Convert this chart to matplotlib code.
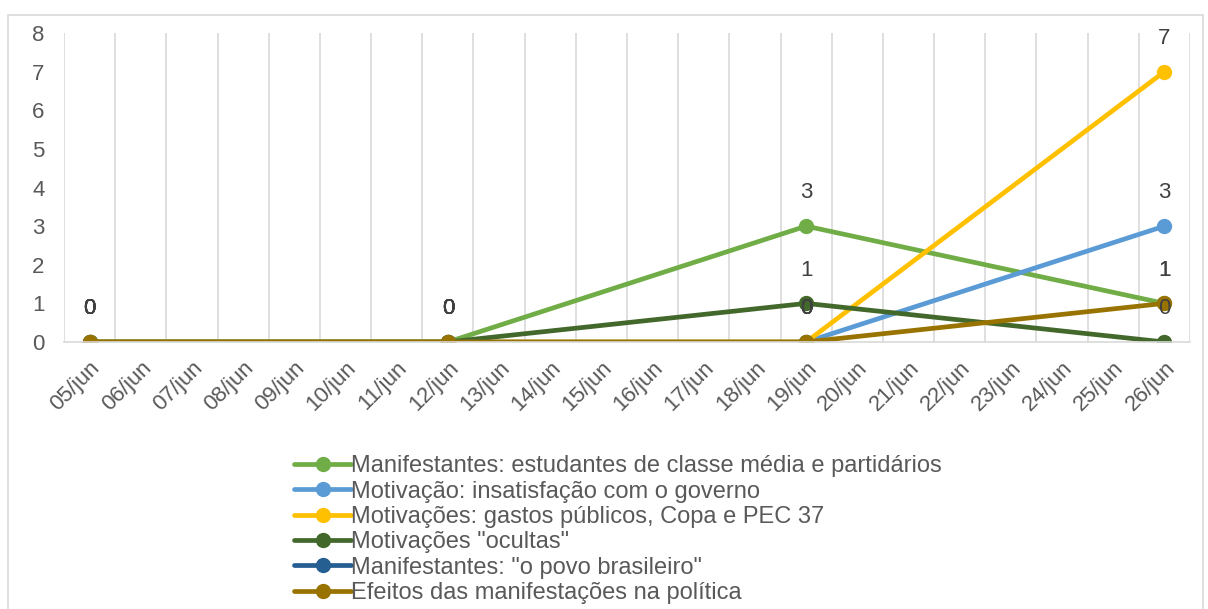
import math
import matplotlib.pyplot as plt
from matplotlib.patches import Rectangle

plt.rcParams['font.family'] = ['Liberation Sans', 'DejaVu Sans']

days = ["%02d/jun" % d for d in range(5, 27)]
obs_days = ["05/jun", "12/jun", "19/jun", "26/jun"]

names = [
    "Manifestantes: estudantes de classe média e partidários",
    "Motivação: insatisfação com o governo",
    "Motivações: gastos públicos, Copa e PEC 37",
    'Motivações "ocultas"',
    'Manifestantes: "o povo brasileiro"',
    "Efeitos das manifestações na política",
]
estudantes = [0, 0, 3, 1]
insatisfacao = [0, 0, 0, 3]
gastos = [0, 0, 0, 7]
ocultas = [0, 0, 1, 0]
povo = [0, 0, 0, float("nan")]
efeitos = [0, 0, 0, 1]
series = [estudantes, insatisfacao, gastos, ocultas, povo, efeitos]
colors = ["#70AD47", "#5B9BD5", "#FFC000", "#43682B", "#255E91", "#997300"]

fig = plt.figure(figsize=(12.08, 6.09), dpi=100)
fig.patches.append(Rectangle((8 / 1208, -0.01), (1203 - 8) / 1208, 1 - 15 / 609 + 0.01,
                             transform=fig.transFigure, fill=False,
                             edgecolor="#d9d9d9", linewidth=1.2))
ax = fig.add_axes([64 / 1208, 1 - 342 / 609, (1190 - 64) / 1208, (342 - 33) / 609])

xs = [days.index(d) for d in obs_days]
for name, vals, c in zip(names, series, colors):
    ax.plot(xs, vals, color=c, lw=3.4, marker="o", ms=10, label=name,
            solid_capstyle="round")
    for x, v in zip(xs, vals):
        if math.isnan(v):
            continue
        ax.annotate(str(v), (x, v), xytext=(0, 24), textcoords="offset points",
                    ha="center", va="center", fontsize=16, color="#404040")

ax.set_xlim(-0.5, len(days) - 0.5)
ax.set_ylim(0, 8)
ax.set_yticks(range(0, 9))
ax.set_xticks(range(len(days)))
ax.set_xticklabels(days, rotation=45, ha="right", rotation_mode="anchor")
ax.tick_params(axis="both", length=0, labelsize=16, labelcolor="#595959")
ax.tick_params(axis="y", pad=14)
ax.tick_params(axis="x", pad=11)
for k in range(len(days)):
    ax.axvline(k + 0.5, color="#d9d9d9", lw=1.2, zorder=0)
for s in ["top", "right", "left"]:
    ax.spines[s].set_visible(False)
ax.spines["bottom"].set_color("#d9d9d9")
ax.spines["bottom"].set_linewidth(1.2)
ax.axvline(-0.5, color="#d9d9d9", lw=1.2, zorder=0)
ax.set_clip_on(False)

leg = fig.legend(loc="upper left", bbox_to_anchor=(285 / 1208, 1 - 446 / 609),
                 frameon=False, fontsize=17, handlelength=2.4, handletextpad=0.0,
                 labelspacing=0.14, borderaxespad=0)
for t in leg.get_texts():
    t.set_color("#595959")

fig.savefig("out.png", dpi=100)
